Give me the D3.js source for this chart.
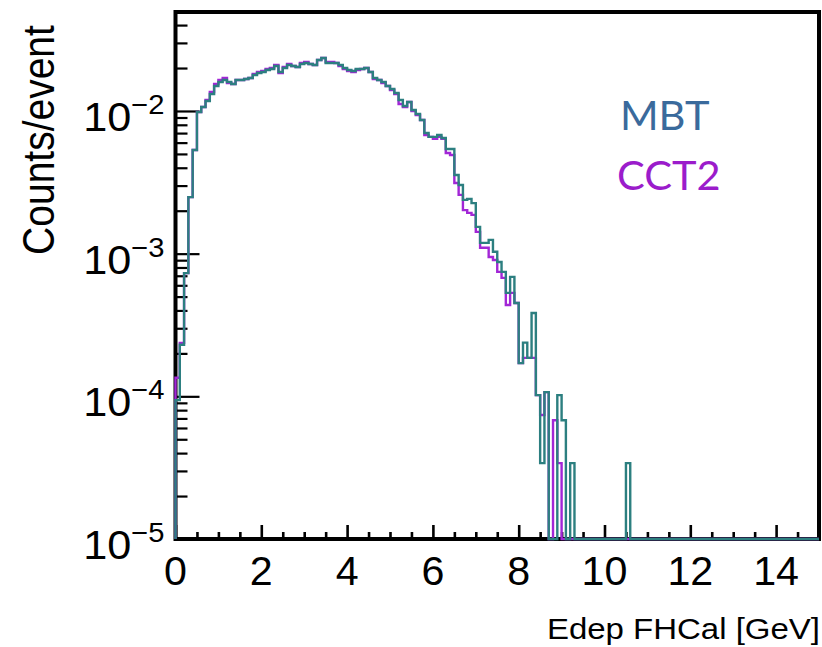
<!DOCTYPE html>
<html>
<head>
<meta charset="utf-8">
<script src="https://cdn.jsdelivr.net/npm/d3@7"></script>
<style>
  body { margin: 0; background: #fff; }
  svg { display: block; }
</style>
</head>
<body>
<div id="graf"></div>
<script>
// Histogram settings: 150 bins of 0.1 GeV from 0 to 15
const binWidth = 0.1

// Counts/event per bin, MBT
const mbt = [
  9.4e-5, 2.3e-4, 7.3e-4, 2.49e-3, 5.33e-3, 9.84e-3, 1.066e-2, 1.175e-2, 1.315e-2, 1.496e-2,
  1.596e-2, 1.649e-2, 1.596e-2, 1.545e-2, 1.649e-2, 1.649e-2, 1.676e-2, 1.703e-2, 1.788e-2, 1.847e-2,
  1.877e-2, 1.937e-2, 1.968e-2, 2.066e-2, 1.877e-2, 2.0e-2, 2.099e-2, 2.066e-2, 2.033e-2, 2.134e-2,
  2.168e-2, 2.134e-2, 2.099e-2, 2.276e-2, 2.35e-2, 2.168e-2, 2.168e-2, 2.168e-2, 2.099e-2, 2.0e-2,
  1.937e-2, 1.907e-2, 1.968e-2, 1.968e-2, 2.0e-2, 1.877e-2, 1.703e-2, 1.649e-2, 1.596e-2, 1.496e-2,
  1.426e-2, 1.337e-2, 1.194e-2, 1.084e-2, 1.156e-2, 1.016e-2, 9.53e-3, 8.65e-3, 7.01e-3, 6.58e-3,
  6.58e-3, 6.79e-3, 6.47e-3, 5.42e-3, 5.42e-3, 3.56e-3, 3.03e-3, 2.38e-3, 2.42e-3, 2.26e-3,
  1.54e-3, 1.19e-3, 1.19e-3, 1.25e-3, 1.03e-3, 8.75e-4, 7.45e-4, 5.31e-4, 6.87e-4, 4.51e-4,
  1.71e-4, 2.38e-4, 1.86e-4, 3.84e-4, 1.02e-4, 3.4e-5, 1.07e-4, 0, 0, 1.02e-4,
  6.8e-5, 0, 3.4e-5, 0, 0, 0, 0, 0, 0, 0,
  0, 0, 0, 0, 0, 3.4e-5, 0, 0, 0, 0,
  0, 0, 0, 0, 0, 0, 0, 0, 0, 0,
  0, 0, 0, 0, 0, 0, 0, 0, 0, 0,
  0, 0, 0, 0, 0, 0, 0, 0, 0, 0,
  0, 0, 0, 0, 0, 0, 0, 0, 0, 0
]

// Counts/event per bin, CCT2
const cct2 = [
  1.35e-4, 2.37e-4, 7.3e-4, 2.49e-3, 5.33e-3, 9.84e-3, 1.066e-2, 1.194e-2, 1.358e-2, 1.545e-2,
  1.649e-2, 1.703e-2, 1.571e-2, 1.545e-2, 1.649e-2, 1.649e-2, 1.676e-2, 1.703e-2, 1.817e-2, 1.877e-2,
  1.907e-2, 1.968e-2, 2.0e-2, 2.099e-2, 1.847e-2, 2.033e-2, 2.134e-2, 2.066e-2, 2.033e-2, 2.168e-2,
  2.204e-2, 2.134e-2, 2.099e-2, 2.276e-2, 2.35e-2, 2.204e-2, 2.204e-2, 2.168e-2, 2.066e-2, 1.968e-2,
  1.907e-2, 1.877e-2, 1.937e-2, 1.968e-2, 2.0e-2, 1.877e-2, 1.676e-2, 1.649e-2, 1.571e-2, 1.496e-2,
  1.403e-2, 1.315e-2, 1.119e-2, 1.066e-2, 1.156e-2, 1.0e-2, 9.38e-3, 8.65e-3, 6.79e-3, 6.58e-3,
  6.37e-3, 6.58e-3, 6.37e-3, 5.08e-3, 4.92e-3, 3.13e-3, 2.58e-3, 2.02e-3, 1.93e-3, 1.87e-3,
  1.42e-3, 1.1e-3, 1.1e-3, 9.48e-4, 9.03e-4, 7.45e-4, 6.76e-4, 4.37e-4, 5.31e-4, 4.51e-4,
  1.71e-4, 1.86e-4, 1.86e-4, 1.86e-4, 1.02e-4, 7.4e-5, 1.07e-4, 0, 6.8e-5, 3.4e-5,
  0, 0, 0, 0, 0, 0, 0, 0, 0, 0,
  0, 0, 0, 0, 0, 0, 0, 0, 0, 0,
  0, 0, 0, 0, 0, 0, 0, 0, 0, 0,
  0, 0, 0, 0, 0, 0, 0, 0, 0, 0,
  0, 0, 0, 0, 0, 0, 0, 0, 0, 0,
  0, 0, 0, 0, 0, 0, 0, 0, 0, 0
]

// Axis ticks and labels
const xTickLabels = [0, 2, 4, 6, 8, 10, 12, 14]
const xMinorTicks = d3.range(0, 15, 0.5)
const yDecades = [1e-5, 1e-4, 1e-3, 1e-2]
const yExponents = ["\u22125", "\u22124", "\u22123", "\u22122"]
const seriesNames = ["MBT", "CCT2"]

const draw = () => {
  const anchoTotal = 822
  const altoTotal = 647
  const frame = { left: 175.5, top: 12, right: 819, bottom: 539 }
  const yMin = 1e-5
  const yMax = 0.0494

  const colorMBT = "#2c7f80"
  const colorCCT2 = "#a226d6"

  const x = d3.scaleLinear().domain([0, 15]).range([frame.left, frame.right])
  const y = d3.scaleLog().domain([yMin, yMax]).range([frame.bottom, frame.top])

  const svg = d3
    .select("#graf")
    .append("svg")
    .attr("width", anchoTotal)
    .attr("height", altoTotal)
    .style("font-family", "'Liberation Sans', Arial, sans-serif")

  svg.append("rect").attr("width", anchoTotal).attr("height", altoTotal).attr("fill", "#fff")

  // Marco
  svg
    .append("rect")
    .attr("x", frame.left)
    .attr("y", frame.top)
    .attr("width", frame.right - frame.left)
    .attr("height", frame.bottom - frame.top)
    .attr("fill", "none")
    .attr("stroke", "#000")
    .attr("stroke-width", 4)

  // Ticks eje Y (dentro del marco)
  const yMinor = []
  yDecades.forEach((d) => {
    for (let k = 2; k <= 9; k++) if (d * k <= yMax) yMinor.push(d * k)
  })
  const yAxisMajor = d3.axisLeft(y).tickValues(yDecades).tickSize(-24).tickFormat("")
  const yAxisMinor = d3.axisLeft(y).tickValues(yMinor).tickSize(-12).tickFormat("")
  ;[yAxisMajor, yAxisMinor].forEach((ax) => {
    const g = svg.append("g").attr("transform", `translate(${frame.left},0)`).call(ax)
    g.select(".domain").remove()
    g.selectAll("line").attr("stroke", "#000").attr("stroke-width", 2.2)
  })

  // Ticks eje X
  const xAxisMajor = d3.axisBottom(x).tickValues(xTickLabels).tickSize(-14).tickFormat("")
  const xAxisMinor = d3
    .axisBottom(x)
    .tickValues(xMinorTicks.filter((v) => v % 2 !== 0))
    .tickSize(-7)
    .tickFormat("")
  ;[xAxisMajor, xAxisMinor].forEach((ax) => {
    const g = svg.append("g").attr("transform", `translate(0,${frame.bottom})`).call(ax)
    g.select(".domain").remove()
    g.selectAll("line").attr("stroke", "#000").attr("stroke-width", 2.6)
  })

  // Histogramas
  const stepLine = d3
    .line()
    .x((d) => x(d[0]))
    .y((d) => y(Math.max(d[1], yMin)))
    .curve(d3.curveStepAfter)

  const toPoints = (values) => {
    const pts = [[0, 0]]
    values.forEach((v, i) => pts.push([i * binWidth, v]))
    pts.push([values.length * binWidth, values[values.length - 1]])
    return pts
  }

  svg
    .append("path")
    .attr("d", stepLine(toPoints(cct2)))
    .attr("fill", "none")
    .attr("stroke", colorCCT2)
    .attr("stroke-width", 2.4)

  svg
    .append("path")
    .attr("d", stepLine(toPoints(mbt)))
    .attr("fill", "none")
    .attr("stroke", colorMBT)
    .attr("stroke-width", 2.4)

  // Etiquetas eje Y
  yDecades.forEach((d, i) => {
    const t = svg
      .append("text")
      .attr("transform", `translate(${frame.left - 11},${y(d) + 20}) scale(1.08,1)`)
      .attr("text-anchor", "end")
      .attr("font-size", 40)
      .attr("fill", "#000")
    t.append("tspan").text("10")
    t.append("tspan").attr("font-size", 27).attr("dy", -17).text(yExponents[i])
  })

  // Etiquetas eje X
  xTickLabels.forEach((v) => {
    svg
      .append("text")
      .attr("transform", `translate(${x(v)},${frame.bottom + 46}) scale(1.03,1)`)
      .attr("text-anchor", "middle")
      .attr("font-size", 40)
      .attr("fill", "#000")
      .text(v)
  })

  // Títulos
  svg
    .append("text")
    .attr("transform", `translate(820,${frame.bottom + 100}) scale(1.1,1)`)
    .attr("text-anchor", "end")
    .attr("font-size", 30)
    .attr("fill", "#000")
    .text("Edep FHCal [GeV]")

  svg
    .append("text")
    .attr("transform", `translate(54,140) scale(1.15,1) rotate(-90)`)
    .attr("text-anchor", "middle")
    .attr("font-size", 39)
    .attr("fill", "#000")
    .text("Counts/event")

  // Leyenda
  const legendColors = ["#3a6a9c", "#9b1ccb"]
  seriesNames.forEach((name, i) => {
    svg
      .append("text")
      .attr("transform", `translate(${i === 0 ? 620 : 617},${i === 0 ? 130 : 190}) scale(1.04,1)`)
      .attr("font-family", "Lato, 'Open Sans', sans-serif")
      .attr("font-size", 40)
      .attr("fill", legendColors[i])
      .text(name)
  })
}

draw()
</script>
</body>
</html>
